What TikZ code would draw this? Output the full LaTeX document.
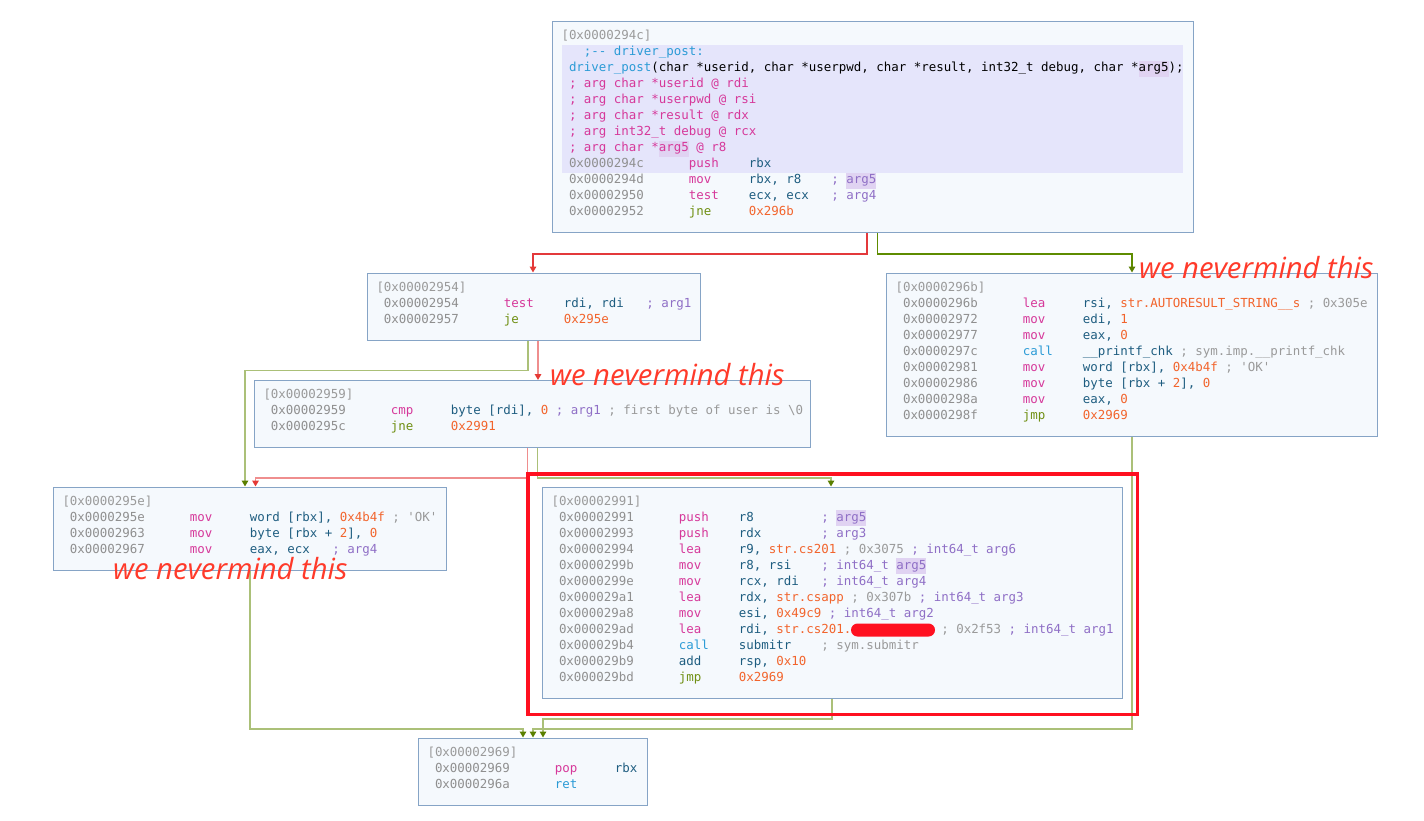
\documentclass[tikz,border=0pt]{standalone}
\usepackage{fontspec}
\usepackage{xcolor}
\usetikzlibrary{positioning,calc,arrows.meta}
\newfontfamily\asmfont{DejaVu Sans Mono}
\newfontfamily\notefont{Open Sans}
\definecolor{adr}{HTML}{8F8F8F}
\definecolor{hdc}{HTML}{9A9A9A}
\definecolor{pkc}{HTML}{D6389A}
\definecolor{jgc}{HTML}{6F8F12}
\definecolor{cyc}{HTML}{2B9BD6}
\definecolor{rgc}{HTML}{1E5D80}
\definecolor{nmc}{HTML}{F2642C}
\definecolor{cmc}{HTML}{9A9A9A}
\definecolor{agc}{HTML}{8F6FC6}
\definecolor{argbg}{HTML}{E0D3F2}
\definecolor{hlA}{HTML}{E5E5FB}
\definecolor{blkfill}{HTML}{F5F9FD}
\definecolor{blkline}{HTML}{86A4C6}
\definecolor{redsat}{HTML}{E3393B}
\definecolor{grnsat}{HTML}{5E8C00}
\definecolor{redfade}{HTML}{EF8E8E}
\definecolor{grnfade}{HTML}{ABC078}
\definecolor{grntip}{HTML}{5A7F00}
\definecolor{redtip}{HTML}{E53935}
\definecolor{markred}{HTML}{FF1020}
\definecolor{notered}{HTML}{FF3A2A}
\newlength\cw \setlength\cw{7.4955pt}
\setlength\fboxsep{0pt}
\newcommand\sr{\rule[-4.6pt]{0pt}{16pt}\spaceskip=\cw\xspaceskip=\cw\relax}
\newcommand\tailpad{\rule[-9.6pt]{0pt}{1pt}}
\newcommand\gap[1]{\hspace*{#1\cw}}
\newcommand\hd[1]{\mbox{\sr\textcolor{hdc}{[#1]}}}
\newcommand\ins[3]{\mbox{\sr\makebox[17\cw][l]{\hspace*{\cw}\textcolor{adr}{#1}}\makebox[8\cw][l]{#2}#3}}
\newcommand\hla[1]{\colorbox{hlA}{\makebox[621pt][l]{\sr#1}}}
\newcommand\ha[1]{\colorbox{argbg}{\sr#1}}
\newcommand\pk[1]{\textcolor{pkc}{#1}}
\newcommand\jg[1]{\textcolor{jgc}{#1}}
\newcommand\cy[1]{\textcolor{cyc}{#1}}
\newcommand\rg[1]{\textcolor{rgc}{#1}}
\newcommand\nm[1]{\textcolor{nmc}{#1}}
\newcommand\cm[1]{\textcolor{cmc}{#1}}
\newcommand\ag[1]{\textcolor{agc}{#1}}
\tikzset{
  blk/.style={draw=blkline, fill=blkfill, line width=1pt, anchor=north west, align=left,
    inner xsep=9pt, inner ysep=7pt, font=\asmfont\fontsize{12.45pt}{16pt}\selectfont},
  redsat/.style={draw=redsat, line width=1.5pt, -{Triangle[width=6.5pt,length=6pt,color=redtip]}},
  grnsat/.style={draw=grnsat, line width=1.5pt, -{Triangle[width=6.5pt,length=6pt,color=grntip]}},
  redfade/.style={draw=redfade, line width=1.5pt, -{Triangle[width=6.5pt,length=6pt,color=redtip]}},
  grnfade/.style={draw=grnfade, line width=1.5pt, -{Triangle[width=6.5pt,length=6pt,color=grntip]}},
  note/.style={anchor=base west, inner sep=0pt, text=notered,
    font=\notefont\itshape\fontsize{29.2pt}{31pt}\selectfont},
}
\begin{document}
\begin{tikzpicture}[x=1pt,y=-1pt]
    \path[use as bounding box, fill=white] (0,0) rectangle (1424,820);
    % basic blocks
    \node[blk, text width=623pt] (A) at (552,21) {\hd{0x0000294c}\\
      \hla{\gap{3}\cy{;-- driver\_post:}}\\
      \hla{\gap{1}\cy{driver\_post}(char *userid, char *userpwd, char *result, int32\_t debug, char *\ha{arg5});}\\
      \hla{\gap{1}\pk{; arg char *userid @ rdi}}\\
      \hla{\gap{1}\pk{; arg char *userpwd @ rsi}}\\
      \hla{\gap{1}\pk{; arg char *result @ rdx}}\\
      \hla{\gap{1}\pk{; arg int32\_t debug @ rcx}}\\
      \hla{\gap{1}\pk{; arg char *\ha{arg5} @ r8}}\\
      \hla{\ins{0x0000294c}{\pk{push}}{\rg{rbx}}}\\
      \ins{0x0000294d}{\pk{mov}}{\rg{rbx, r8}\gap{4}\ag{; \ha{arg5}}}\\
      \ins{0x00002950}{\pk{test}}{\rg{ecx, ecx}\gap{3}\ag{; arg4}}\\
      \ins{0x00002952}{\jg{jne}}{\nm{0x296b}}\tailpad};
    \node[blk, text width=315pt] (B) at (367,272.5) {\hd{0x00002954}\\
      \ins{0x00002954}{\pk{test}}{\rg{rdi, rdi}\gap{3}\ag{; arg1}}\\
      \ins{0x00002957}{\jg{je}}{\nm{0x295e}}\tailpad};
    \node[blk, text width=473pt] (C) at (886,272.5) {\hd{0x0000296b}\\
      \ins{0x0000296b}{\pk{lea}}{\rg{rsi, }\nm{str.AUTORESULT\_STRING\_\_s}\gap{1}\cm{; 0x305e}}\\
      \ins{0x00002972}{\pk{mov}}{\rg{edi, }\nm{1}}\\
      \ins{0x00002977}{\pk{mov}}{\rg{eax, }\nm{0}}\\
      \ins{0x0000297c}{\cy{call}}{\rg{\_\_printf\_chk}\gap{1}\cm{; sym.imp.\_\_printf\_chk}}\\
      \ins{0x00002981}{\pk{mov}}{\rg{word [rbx], }\nm{0x4b4f}\gap{1}\cm{; 'OK'}}\\
      \ins{0x00002986}{\pk{mov}}{\rg{byte [rbx + }\nm{2}\rg{], }\nm{0}}\\
      \ins{0x0000298a}{\pk{mov}}{\rg{eax, }\nm{0}}\\
      \ins{0x0000298f}{\jg{jmp}}{\nm{0x2969}}\tailpad};
    \node[blk, text width=538pt] (D) at (254,380) {\hd{0x00002959}\\
      \ins{0x00002959}{\pk{cmp}}{\rg{byte [rdi], }\nm{0}\gap{1}\ag{; arg1}\gap{1}\cm{; first byte of user is \textbackslash0}}\\
      \ins{0x0000295c}{\jg{jne}}{\nm{0x2991}}\tailpad};
    \node[blk, text width=375pt] (E) at (53,486.5) {\hd{0x0000295e}\\
      \ins{0x0000295e}{\pk{mov}}{\rg{word [rbx], }\nm{0x4b4f}\gap{1}\cm{; 'OK'}}\\
      \ins{0x00002963}{\pk{mov}}{\rg{byte [rbx + }\nm{2}\rg{], }\nm{0}}\\
      \ins{0x00002967}{\pk{mov}}{\rg{eax, ecx}\gap{3}\ag{; arg4}}\tailpad};
    \node[blk, text width=562pt] (F) at (542,486.5) {\hd{0x00002991}\\
      \ins{0x00002991}{\pk{push}}{\rg{r8}\gap{9}\ag{; \ha{arg5}}}\\
      \ins{0x00002993}{\pk{push}}{\rg{rdx}\gap{8}\ag{; arg3}}\\
      \ins{0x00002994}{\pk{lea}}{\rg{r9, }\nm{str.cs201}\gap{1}\cm{; 0x3075}\gap{1}\ag{; int64\_t arg6}}\\
      \ins{0x0000299b}{\pk{mov}}{\rg{r8, rsi}\gap{4}\ag{; int64\_t \ha{arg5}}}\\
      \ins{0x0000299e}{\pk{mov}}{\rg{rcx, rdi}\gap{3}\ag{; int64\_t arg4}}\\
      \ins{0x000029a1}{\pk{lea}}{\rg{rdx, }\nm{str.csapp}\gap{1}\cm{; 0x307b}\gap{1}\ag{; int64\_t arg3}}\\
      \ins{0x000029a8}{\pk{mov}}{\rg{esi, }\nm{0x49c9}\gap{1}\ag{; int64\_t arg2}}\\
      \ins{0x000029ad}{\pk{lea}}{\rg{rdi, }\nm{str.cs201.}\gap{12}\cm{; 0x2f53}\gap{1}\ag{; int64\_t arg1}}\\
      \ins{0x000029b4}{\cy{call}}{\rg{submitr}\gap{4}\cm{; sym.submitr}}\\
      \ins{0x000029b9}{\rg{add}}{\rg{rsp, }\nm{0x10}}\\
      \ins{0x000029bd}{\jg{jmp}}{\nm{0x2969}}\tailpad};
    \node[blk, text width=211pt] (G) at (418,737.5) {\hd{0x00002969}\\
      \ins{0x00002969}{\pk{pop}}{\rg{rbx}}\\
      \ins{0x0000296a}{\cy{ret}}{}\tailpad};
    % jumps
    \draw[redsat] ([xshift=315pt]A.south west) -- ++(0,21) -| ([xshift=166pt]B.north west);
    \draw[grnsat] ([xshift=325.5pt]A.south west) -- ++(0,21) -| ([xshift=246pt]C.north west);
    \draw[grnfade] ([xshift=161pt]B.south west) -- ++(0,30) -| ([xshift=192pt]E.north west);
    \draw[redfade] ([xshift=171pt]B.south west) -- ([xshift=284pt]D.north west);
    \draw[redfade] ([xshift=273.5pt]D.south west) -- ++(0,30) -| ([xshift=202.5pt]E.north west);
    \draw[grnfade] ([xshift=283.5pt]D.south west) -- ++(0,30) -| ([xshift=289pt]F.north west);
    \draw[grnfade] ([xshift=197pt]E.south west) -- ++(0,158.5) -| ([xshift=105pt]G.north west);
    \draw[grnfade] ([xshift=246pt]C.south west) -- ++(0,292.5) -| ([xshift=115pt]G.north west);
    \draw[grnfade] ([xshift=290pt]F.south west) -- ++(0,20.5) -| ([xshift=125pt]G.north west);
    % markup
    \draw[markred, line width=3.5pt] ([shift={(-14,-12.5)}]F.north west) rectangle ([shift={(14.5,16)}]F.south east);
    \fill[markred, rounded corners=6.5pt] ([shift={(309,137)}]F.north west) rectangle ++(84,13);
    \node[note] (n1) at (1139,278) {we nevermind this};
    \node[note] (n2) at (550,385) {we nevermind this};
    \node[note] (n3) at (113,579) {we nevermind this};
\end{tikzpicture}
\end{document}
